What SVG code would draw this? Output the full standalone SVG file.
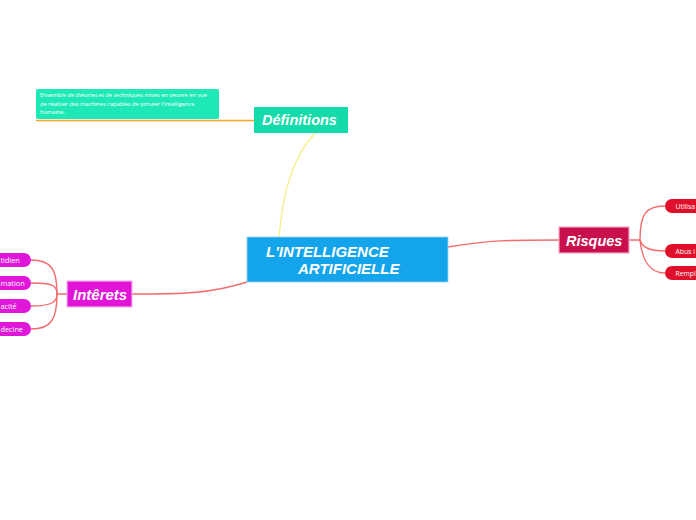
<svg xmlns="http://www.w3.org/2000/svg" width="696" height="520" viewBox="0 0 696 520">
<style>
.title{font-family:"Liberation Sans",Arial,sans-serif;font-weight:bold;font-style:italic;fill:#fff}
.small{font-family:"Open Sans","Noto Sans",sans-serif;fill:#fff;font-size:7.3px}
.rs{font-size:6.8px}
.note{font-family:"Open Sans","Noto Sans",sans-serif;fill:#fff;font-size:5.7px}
.c{fill:none;stroke-width:1.4}
.red{stroke:#f36b6b}
</style>
<rect width="696" height="520" fill="#fff"/>
<g id="connectors">
<path class="c" d="M36 120.5 H254" stroke="#f5a623"/>
<path class="c" d="M315 133 C290 160 282 200 279 238" stroke="#f6ef8c"/>
<path class="c red" d="M448 247 C490 240 510 240 559 240"/>
<path class="c red" d="M247 282 C210 294 180 294 132 294"/>
<path class="c red" d="M629 240 H640 C640 215 645 206 665 206"/>
<path class="c red" d="M640 240 C642 248 650 251 665 251"/>
<path class="c red" d="M640 240 C642 260 650 273 665 273"/>
<path class="c red" d="M67 294 H57 C57 270 52 260 31 260"/>
<path class="c red" d="M57 294 C57 285 52 283 31 283"/>
<path class="c red" d="M57 294 C57 302 52 306 31 306"/>
<path class="c red" d="M57 294 C57 318 52 329 31 329"/>
</g>
<g id="center">
<rect x="247" y="237" width="201" height="45" fill="#13a4ec" stroke="#9fd6f6" stroke-width="0.8"/>
<text class="title" x="266" y="257" font-size="15">L'INTELLIGENCE</text>
<text class="title" x="298" y="274" font-size="15">ARTIFICIELLE</text>
</g>
<g id="definitions">
<rect x="254" y="107" width="94" height="26" fill="#15daa9"/>
<text class="title" x="262" y="125" font-size="14.5">Définitions</text>
</g>
<g id="note">
<rect x="36" y="89" width="183" height="30" rx="2" fill="#1ee8b6"/>
<text class="note" x="40" y="97">Ensemble de théories et de techniques mises en oeuvre en vue</text>
<text class="note" x="40" y="105.5">de réaliser des machines capables de simuler l'intelligence</text>
<text class="note" x="40" y="114">humaine.</text>
</g>
<g id="risques">
<rect x="559" y="227" width="70" height="26" fill="#c9104c" stroke="#f4a7c3" stroke-width="1.2"/>
<text class="title" x="566" y="246" font-size="14.5">Risques</text>
</g>
<g id="r1"><rect x="665" y="199" width="60" height="14" rx="7" fill="#e0102b"/><text class="small rs" x="675.5" y="208.5">Utilisa</text></g>
<g id="r2"><rect x="665" y="244" width="60" height="14" rx="7" fill="#e0102b"/><text class="small rs" x="675.5" y="253.5">Abus l</text></g>
<g id="r3"><rect x="665" y="266" width="60" height="14" rx="7" fill="#e0102b"/><text class="small rs" x="675.5" y="275.5">Rempl</text></g>
<g id="interets">
<rect x="67" y="281" width="65" height="26" fill="#e013d7" stroke="#f2b3ef" stroke-width="1.2"/>
<text class="title" x="73" y="300" font-size="15">Intêrets</text>
</g>
<g id="i1"><rect x="-40" y="253" width="71" height="14" rx="7" fill="#e016d9"/><text class="small" x="0.5" y="262.5">tidien</text></g>
<g id="i2"><rect x="-40" y="276" width="71" height="14" rx="7" fill="#e016d9"/><text class="small" x="0.5" y="285.5">mation</text></g>
<g id="i3"><rect x="-40" y="299" width="71" height="14" rx="7" fill="#e016d9"/><text class="small" x="0.5" y="308.5">acité</text></g>
<g id="i4"><rect x="-40" y="322" width="71" height="14" rx="7" fill="#e016d9"/><text class="small" x="0.5" y="331.5">decine</text></g>
</svg>
